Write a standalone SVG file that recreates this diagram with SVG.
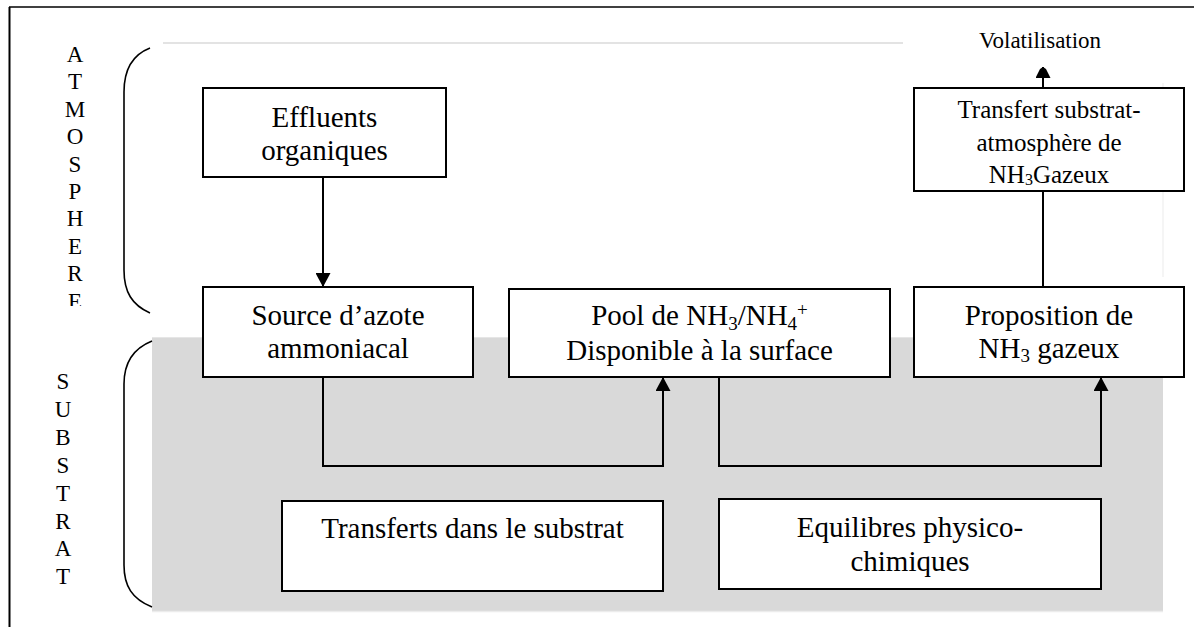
<svg xmlns="http://www.w3.org/2000/svg" width="1194" height="627" viewBox="0 0 1194 627">
<style>
  .box { fill: #ffffff; stroke: #000000; stroke-width: 2; }
  .t { font-family: "Liberation Serif", "Times New Roman", serif; font-size: 29px; fill: #000000; text-anchor: middle; }
  .ts { font-family: "Liberation Serif", "Times New Roman", serif; font-size: 25px; fill: #000000; text-anchor: middle; }
  .tv { font-family: "Liberation Serif", "Times New Roman", serif; font-size: 23px; fill: #000000; text-anchor: middle; }
  .lt { font-family: "Liberation Serif", "Times New Roman", serif; font-size: 23px; fill: #000000; text-anchor: middle; }
  .conn { fill: none; stroke: #000000; stroke-width: 2; }
  .brace { fill: none; stroke: #000000; stroke-width: 1.6; }
</style>
<defs>
  <marker id="arr" markerUnits="userSpaceOnUse" viewBox="0 0 14 15" refX="14" refY="7.5" markerWidth="14" markerHeight="15" orient="auto">
    <path d="M0,0 L14,7.5 L0,15 Z" fill="#000000"/>
  </marker>
  <marker id="arrs" markerUnits="userSpaceOnUse" viewBox="0 0 11 15" refX="11" refY="7.5" markerWidth="11" markerHeight="15" orient="auto">
    <path d="M0,0 L9,4.5 L11,7.5 L9,10.5 L0,15 Z" fill="#000000"/>
  </marker>
  <clipPath id="clipAtm">
    <rect x="40" y="30" width="80" height="276"/>
  </clipPath>
</defs>

<g id="frame">
  <line x1="9.5" y1="7" x2="9.5" y2="627" stroke="#000000" stroke-width="2"/>
  <line x1="9" y1="7" x2="1194" y2="7" stroke="#000000" stroke-width="1.5"/>
</g>

<g id="zones">
  <line x1="163" y1="43" x2="903" y2="43" stroke="#c8c8c8" stroke-width="1.2"/>
  <line x1="1163" y1="83" x2="1163" y2="277" stroke="#ebebeb" stroke-width="1"/>
  <rect x="152" y="337" width="1011" height="274" fill="#d9d9d9"/>
  <line x1="152" y1="337.5" x2="1163" y2="337.5" stroke="#e6e6e6" stroke-width="1"/>
  <line x1="152" y1="611.5" x2="1163" y2="611.5" stroke="#ececec" stroke-width="1.5"/>
</g>

<g id="brace-atmosphere">
  <path class="brace" d="M150,48 C132,55 124,70 124,92 L124,270 C124,292 132,305 150,313"/>
</g>
<g id="brace-substrat">
  <path class="brace" d="M152,341 C132,349 124,364 124,384 L124,565 C124,586 132,599 152,607"/>
</g>

<g id="label-atmosphere" clip-path="url(#clipAtm)">
  <text class="lt" x="75" y="62">A</text>
  <text class="lt" x="75" y="89.4">T</text>
  <text class="lt" x="75" y="116.8">M</text>
  <text class="lt" x="75" y="144.2">O</text>
  <text class="lt" x="75" y="171.6">S</text>
  <text class="lt" x="75" y="199">P</text>
  <text class="lt" x="75" y="226.4">H</text>
  <text class="lt" x="75" y="253.8">E</text>
  <text class="lt" x="75" y="281.2">R</text>
  <text class="lt" x="75" y="308.6">E</text>
</g>

<g id="label-substrat">
  <text class="lt" x="63" y="389">S</text>
  <text class="lt" x="63" y="416.9">U</text>
  <text class="lt" x="63" y="444.8">B</text>
  <text class="lt" x="63" y="472.7">S</text>
  <text class="lt" x="63" y="500.6">T</text>
  <text class="lt" x="63" y="528.5">R</text>
  <text class="lt" x="63" y="556.4">A</text>
  <text class="lt" x="63" y="584.3">T</text>
</g>

<g id="connectors">
  <line class="conn" x1="323" y1="177" x2="323" y2="287" marker-end="url(#arr)"/>
  <polyline class="conn" points="323,377 323,466 663,466 663,377" marker-end="url(#arr)"/>
  <polyline class="conn" points="719,377 719,466 1101,466 1101,377" marker-end="url(#arr)"/>
  <line class="conn" x1="1043" y1="287" x2="1043" y2="191"/>
  <line class="conn" x1="1043" y1="88" x2="1043" y2="67" marker-end="url(#arrs)"/>
</g>

<g id="node-effluents">
  <rect class="box" x="203" y="88" width="243" height="89"/>
  <text class="t" x="324.5" y="127">Effluents</text>
  <text class="t" x="324.5" y="160">organiques</text>
</g>

<g id="node-source">
  <rect class="box" x="203" y="287" width="270" height="90"/>
  <text class="t" x="338" y="325">Source d’azote</text>
  <text class="t" x="338" y="358">ammoniacal</text>
</g>

<g id="node-pool">
  <rect class="box" x="509" y="289" width="381" height="88"/>
  <text class="t" x="699.5" y="325">Pool de NH<tspan font-size="19" dy="5">3</tspan><tspan dy="-5">/NH</tspan><tspan font-size="19" dy="5">4</tspan><tspan font-size="19" dy="-14">+</tspan></text>
  <text class="t" x="699.5" y="360">Disponible à la surface</text>
</g>

<g id="node-proposition">
  <rect class="box" x="914" y="287" width="270" height="90"/>
  <text class="t" x="1049" y="325">Proposition de</text>
  <text class="t" x="1049" y="358">NH<tspan font-size="19" dy="4">3</tspan><tspan dy="-4"> gazeux</tspan></text>
</g>

<g id="node-transfert">
  <rect class="box" x="914" y="88" width="270" height="103"/>
  <text class="ts" x="1049" y="118">Transfert substrat-</text>
  <text class="ts" x="1049" y="151">atmosphère de</text>
  <text class="ts" x="1049" y="183">NH<tspan font-size="16" dy="2">3</tspan><tspan dy="-2">Gazeux</tspan></text>
</g>

<g id="node-volatilisation">
  <text class="tv" x="1040" y="48">Volatilisation</text>
</g>

<g id="node-transferts-substrat">
  <rect class="box" x="282" y="501" width="381" height="90"/>
  <text class="t" x="472.5" y="538">Transferts dans le substrat</text>
</g>

<g id="node-equilibres">
  <rect class="box" x="719" y="499" width="382" height="90"/>
  <text class="t" x="910" y="537">Equilibres physico-</text>
  <text class="t" x="910" y="571">chimiques</text>
</g>
</svg>
